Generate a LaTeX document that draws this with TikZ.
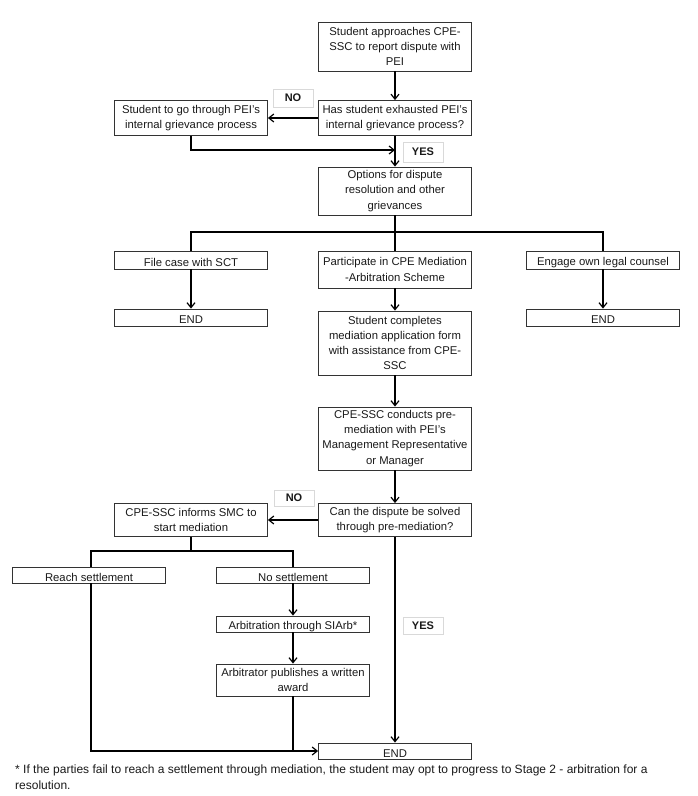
\documentclass[tikz,border=0pt]{standalone}
\usepackage{fontspec}
\setmainfont{Liberation Sans}
\usetikzlibrary{arrows.meta,calc}
\begin{document}
\begin{tikzpicture}[x=1pt,y=-1pt,
  box/.style={draw=black!80,line width=0.8pt,inner sep=0pt,align=center,
    font=\fontsize{11.3}{15.1}\selectfont,text=black!90,
    execute at begin node={\rule{0pt}{12.8pt}}},
  lower/.style={execute at begin node={\rule{0pt}{#1}}},
  wC/.style={minimum width=153pt},
  lbl/.style={draw=black!15,line width=0.8pt,inner sep=0pt,minimum width=40pt,
    font=\fontsize{11}{13}\selectfont\bfseries,text=black!90},
  conn/.style={line width=1.4pt,black},
  arr/.style={conn,-{Straight Barb[length=5pt,width=8pt,line width=1.2pt]}}]
\useasboundingbox (0,0) rectangle (698,796);
% boxes
\node[box,wC,lower=16pt,minimum height=49pt] (b1) at (395,46.5) {Student approaches CPE-\\SSC to report dispute with\\PEI};
\node[box,wC,lower=18.5pt,minimum height=35pt] (b2) at (395,118) {Has student exhausted PEI's\\internal grievance process?};
\node[box,wC,lower=18.5pt,minimum height=35pt] (b3) at (191,118) {Student to go through PEI's\\internal grievance process};
\node[box,wC,lower=15pt,minimum height=48pt] (b4) at (395,191) {Options for dispute\\resolution and other\\grievances};
\node[box,wC,minimum height=18pt] (b5) at (191,260) {File case with SCT};
\node[box,wC,minimum height=37pt] (b6) at (395,269.5) {Participate in CPE Mediation\\-Arbitration Scheme};
\node[box,wC,minimum height=18pt] (b7) at (603,260) {Engage own legal counsel};
\node[box,wC,minimum height=17pt] (b8) at (191,317.5) {END};
\node[box,wC,minimum height=17pt] (b9) at (603,317.5) {END};
\node[box,wC,minimum height=64pt] (b10) at (395,343) {Student completes\\mediation application form\\with assistance from CPE-\\SSC};
\node[box,wC,minimum height=63pt] (b11) at (395,438.5) {CPE-SSC conducts pre-\\mediation with PEI's\\Management Representative\\or Manager};
\node[box,wC,minimum height=33pt] (b12) at (395,520) {Can the dispute be solved\\through pre-mediation?};
\node[box,wC,minimum height=33pt] (b13) at (191,520) {CPE-SSC informs SMC to\\start mediation};
\node[box,wC,minimum height=16pt] (b14) at (89,575) {Reach settlement};
\node[box,wC,minimum height=16pt] (b15) at (293,575) {No settlement};
\node[box,wC,minimum height=16pt] (b16) at (293,624) {Arbitration through SIArb*};
\node[box,wC,minimum height=32pt] (b17) at (293,680) {Arbitrator publishes a written\\award};
\node[box,wC,minimum height=16pt] (b18) at (395,751) {END};
% labels
\node[lbl,minimum height=18pt] (no1) at (293,98) {NO};
\node[lbl,minimum height=20pt] (yes1) at (423,152) {YES};
\node[lbl,minimum height=16pt] (no2) at (294,498) {NO};
\node[lbl,minimum height=17pt] (yes2) at (423,625.5) {YES};
% junction coordinates
\coordinate (j1) at (191,150);
\coordinate (j2) at (395,232);
\coordinate (jl) at (91,551);
\coordinate (j3) at (191,551);
% connectors
\draw[arr] (b1) -- (b2);
\draw[arr] (b2) -- (b3);
\draw[arr] (b2) -- (b4);
\draw[arr] (b3.south) -- (j1) -- (j1 -| b2);
\draw[conn] (b4.south) -- (j2);
\draw[conn] (b5.north) |- (j2) -| (b7.north);
\draw[conn] (j2) -- (b6.north);
\draw[arr] (b5) -- (b8);
\draw[arr] (b7) -- (b9);
\draw[arr] (b6) -- (b10);
\draw[arr] (b10) -- (b11);
\draw[arr] (b11) -- (b12);
\draw[arr] (b12) -- (b13);
\draw[conn] (b13.south) -- (j3);
\draw[conn] (jl |- b14.north) -- (jl) -- (jl -| b15) -- (b15.north);
\draw[arr] (b15) -- (b16);
\draw[arr] (b16) -- (b17);
\draw[arr] (b12) -- (b18);
\draw[arr] (jl |- b14.south) -- (jl |- b18.west) -- (b18.west);
\draw[conn] (b17.south) -- (b17.south |- b18.west);
% footnote
\node[anchor=north west,inner sep=0pt,align=left,font=\fontsize{12}{16}\selectfont,text=black!90] (fn) at (15,764.5)
  {* If the parties fail to reach a settlement through mediation, the student may opt to progress to Stage 2 - arbitration for a\\resolution.};
\end{tikzpicture}
\end{document}
